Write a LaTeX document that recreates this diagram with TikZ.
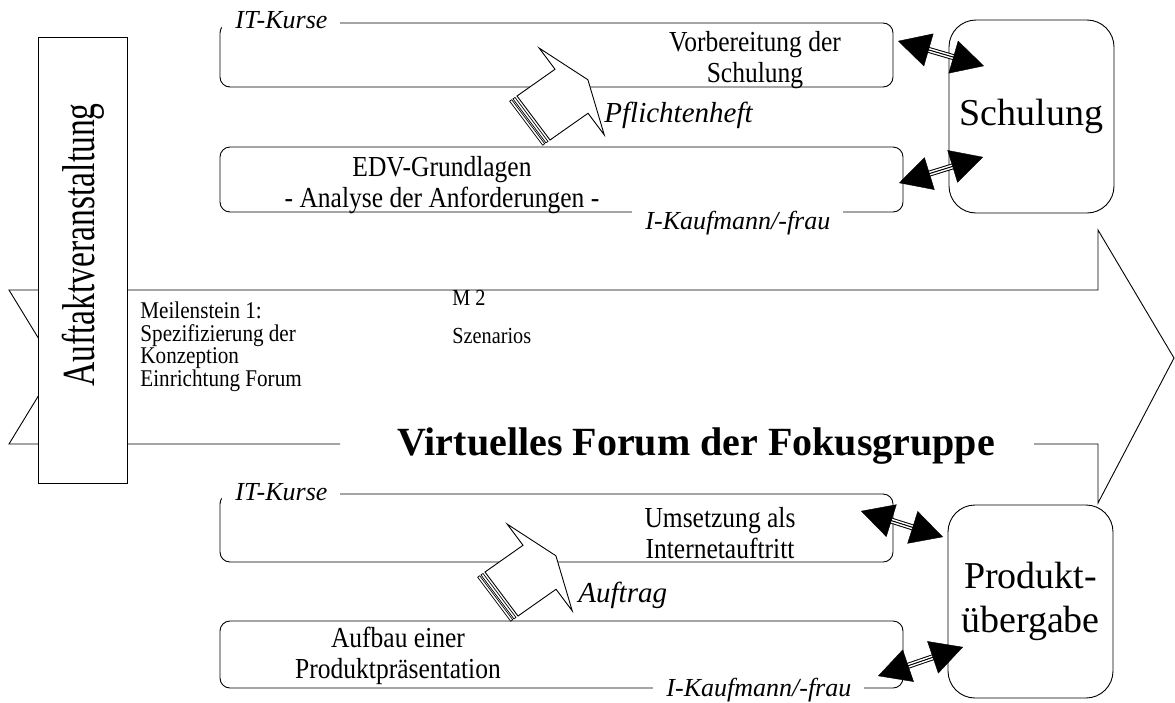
\documentclass[tikz,border=0pt]{standalone}
\usepackage{fontspec}
\setmainfont{Liberation Serif}
\newfontfamily\narrowserif[FakeStretch=0.88]{Liberation Serif}
\usetikzlibrary{arrows.meta,calc}

% striped block arrow; #1 is the upper corner of its tail edge
\newcommand\stripedarrow[1]{%
  \begin{scope}[shift={#1}, x={(0.818pt,0.575pt)}, y={(0.6pt,-0.8pt)}]
    \draw[fill=white] (0,0) -- (46.5,0) -- (46.5,-26.5) -- (66.5,27.5)
      -- (46.5,82) -- (46.5,55) -- (0,55) -- cycle;
    \draw[fill=white, line width=0.7pt] (-2.5,0) -- (-5,0) -- (-5,55) -- (-2.5,55) -- cycle;
    \draw[fill=white, line width=0.7pt] (-6.5,0) -- (-9,0) -- (-9,55) -- (-6.5,55) -- cycle;
  \end{scope}}

% two-headed connector with a triple-line shaft
\newcommand\dblarrow[2]{%
  \draw[line width=6pt, shorten <=26pt, shorten >=26pt] (#1) -- (#2);
  \draw[white, line width=4pt, shorten <=25pt, shorten >=25pt] (#1) -- (#2);
  \draw[line width=0.9pt, shorten <=25pt, shorten >=25pt] (#1) -- (#2);
  \draw[line width=0.4pt, {Triangle[length=32pt,width=34pt]}-{Triangle[length=32pt,width=34pt]}] (#1) -- (#2);}

\begin{document}
\begin{tikzpicture}[x=1pt, y=-1pt, line width=0.9pt,
  box/.style={draw, rounded corners=10pt, fill=white, inner sep=0pt},
  bigbox/.style={draw, rounded corners=27pt, fill=white, inner sep=0pt,
    minimum width=165pt, minimum height=193pt, align=center,
    font=\fontsize{38}{44}\selectfont},
  lbl/.style={font=\fontsize{29}{31}\narrowserif, align=center, inner sep=0pt},
  tag/.style={font=\fontsize{26}{30}\selectfont\itshape, fill=white,
    inner ysep=2pt, inner xsep=13pt, anchor=base west},
  flow/.style={font=\fontsize{29}{32}\selectfont\itshape, inner sep=0pt, anchor=base west},
  note/.style={font=\fontsize{24}{22.5}\narrowserif, align=left, inner sep=0pt, anchor=base west}]
\useasboundingbox (0,0) rectangle (1175,702);

% the long process arrow
\draw (1034,444) -- (1098,444) -- (1098,503) -- (1174,358) -- (1098,230)
  -- (1098,290) -- (9,290) -- (56,367) -- (9,444) -- (340,444);

% work packages
\node[box, minimum width=673pt, minimum height=64pt] (b1) at (556.5,55) {};
\node[box, minimum width=683pt, minimum height=65pt] (b2) at (561.5,179.5) {};
\node[box, minimum width=673pt, minimum height=68pt] (b3) at (556.5,528) {};
\node[box, minimum width=683pt, minimum height=67pt] (b4) at (561.5,654.5) {};

\node[lbl] (t1) at (755,60) {Vorbereitung der\\Schulung};
\node[lbl] (t2) at (442,185) {EDV-Grundlagen\\- Analyse der Anforderungen -};
\node[lbl] (t3) at (720,533) {Umsetzung als\\Internetauftritt};
\node[lbl] (t4) at (398,656) {Aufbau einer\\Produktpräsentation};

\node[tag] (k1) at (222,28) {IT-Kurse};
\node[tag] (k2) at (222,500) {IT-Kurse};
\node[tag] (f1) at (632,229) {I-Kaufmann/-frau};
\node[tag] (f2) at (653,696) {I-Kaufmann/-frau};

% hand-over arrows between the packages
\stripedarrow{(517,96)}
\stripedarrow{(485,572)}
\node[flow] (p1) at (604,122) {Pflichtenheft};
\node[flow] (p2) at (578,602) {Auftrag};

% results
\node[bigbox] (schul) at (1031.5,116.5) {Schulung};
\node[bigbox] (prod) at (1030.5,601.5) {Produkt-\\übergabe};

% kick-off bar
\node[draw, fill=white, minimum width=89pt, minimum height=446pt, inner sep=0pt] (kick) at (82.5,260) {};
\node[rotate=90, anchor=base, inner sep=0pt, font=\fontsize{46}{46}\selectfont] (kicktxt) at (94,245)
  {\scalebox{0.73}[1]{Auftaktveranstaltung}};

% milestones and forum title
\node[note] (ms1) at (140,386) {Meilenstein 1:\\Spezifizierung der\\Konzeption\\Einrichtung Forum};
\node[note, font=\fontsize{23}{38}\narrowserif] (ms2) at (452,343) {M 2\\Szenarios};
\node[anchor=base west, inner sep=0pt, font=\fontsize{40}{40}\selectfont\bfseries] (title) at (397,455)
  {Virtuelles Forum der Fokusgruppe};

% links to the results
\coordinate (a1l) at (898,41);  \coordinate (a1r) at (984,66);
\coordinate (a2l) at (899,183); \coordinate (a2r) at (983,157);
\coordinate (a3l) at (861,511); \coordinate (a3r) at (943,537);
\coordinate (a4l) at (878,676); \coordinate (a4r) at (963,647);
\dblarrow{a1l}{a1r}
\dblarrow{a2l}{a2r}
\dblarrow{a3l}{a3r}
\dblarrow{a4l}{a4r}
\end{tikzpicture}
\end{document}
